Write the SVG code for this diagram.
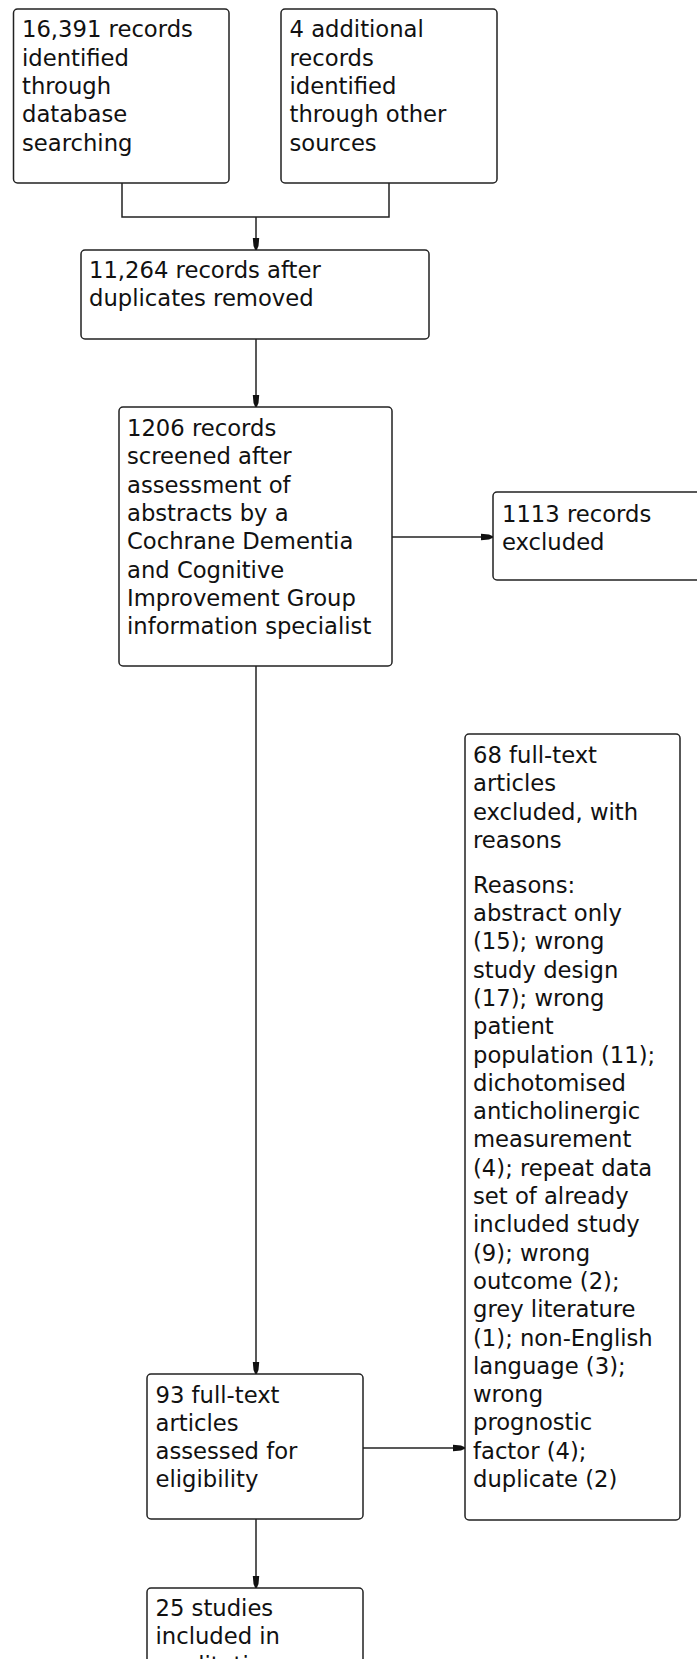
<svg xmlns="http://www.w3.org/2000/svg" width="697" height="1659" viewBox="0 0 697 1659">
<style>
.box{fill:#fff;stroke:#222;stroke-width:1.5}
.t{font-family:"DejaVu Sans",Verdana,sans-serif;font-size:22.7px;fill:#111}
.c{fill:none;stroke:#222;stroke-width:1.5}
</style>
<defs>
<marker id="arr" viewBox="0 0 12 8" refX="12" refY="4" markerWidth="12" markerHeight="8" orient="auto" markerUnits="userSpaceOnUse">
<path d="M0,0.8 L8,1.5 L12,3.2 L12,4.8 L8,6.5 L0,7.2 z" fill="#111"/>
</marker>
</defs>
<rect width="697" height="1659" fill="#fff"/>
<g id="connectors">
<path class="c" d="M122,183 V217 H389 V183"/>
<path class="c" d="M256,217 V250" marker-end="url(#arr)"/>
<path class="c" d="M256,339 V407" marker-end="url(#arr)"/>
<path class="c" d="M392,537 H493" marker-end="url(#arr)"/>
<path class="c" d="M256,666 V1374" marker-end="url(#arr)"/>
<path class="c" d="M363,1448 H465" marker-end="url(#arr)"/>
<path class="c" d="M256,1519 V1588" marker-end="url(#arr)"/>
</g>
<g id="n1">
<rect class="box" x="13.5" y="9" width="215.5" height="174" rx="4"/>
<text class="t"><tspan x="22" y="37.3">16,391 records</tspan><tspan x="22" y="65.6">identified</tspan><tspan x="22" y="93.9">through</tspan><tspan x="22" y="122.2">database</tspan><tspan x="22" y="150.5">searching</tspan></text>
</g>
<g id="n2">
<rect class="box" x="281" y="9" width="216" height="174" rx="4"/>
<text class="t"><tspan x="289.5" y="37.3">4 additional</tspan><tspan x="289.5" y="65.6">records</tspan><tspan x="289.5" y="93.9">identified</tspan><tspan x="289.5" y="122.2">through other</tspan><tspan x="289.5" y="150.5">sources</tspan></text>
</g>
<g id="n3">
<rect class="box" x="81" y="250" width="348" height="89" rx="4"/>
<text class="t"><tspan x="89" y="278">11,264 records after</tspan><tspan x="89" y="306.3">duplicates removed</tspan></text>
</g>
<g id="n4">
<rect class="box" x="119" y="407" width="273" height="259" rx="4"/>
<text class="t"><tspan x="127" y="436">1206 records</tspan><tspan x="127" y="464.3">screened after</tspan><tspan x="127" y="492.6">assessment of</tspan><tspan x="127" y="520.9">abstracts by a</tspan><tspan x="127" y="549.2">Cochrane Dementia</tspan><tspan x="127" y="577.5">and Cognitive</tspan><tspan x="127" y="605.8">Improvement Group</tspan><tspan x="127" y="634.1">information specialist</tspan></text>
</g>
<g id="n5">
<rect class="box" x="493" y="492" width="220" height="88" rx="4"/>
<text class="t"><tspan x="502" y="521.7">1113 records</tspan><tspan x="502" y="550">excluded</tspan></text>
</g>
<g id="n6">
<rect class="box" x="465" y="734" width="215" height="786" rx="4"/>
<text class="t"><tspan x="473" y="763">68 full-text</tspan><tspan x="473" y="791.3">articles</tspan><tspan x="473" y="819.6">excluded, with</tspan><tspan x="473" y="847.9">reasons</tspan><tspan x="473" y="892.7">Reasons:</tspan><tspan x="473" y="921">abstract only</tspan><tspan x="473" y="949.3">(15); wrong</tspan><tspan x="473" y="977.6">study design</tspan><tspan x="473" y="1005.9">(17); wrong</tspan><tspan x="473" y="1034.2">patient</tspan><tspan x="473" y="1062.5">population (11);</tspan><tspan x="473" y="1090.8">dichotomised</tspan><tspan x="473" y="1119.1">anticholinergic</tspan><tspan x="473" y="1147.4">measurement</tspan><tspan x="473" y="1175.7">(4); repeat data</tspan><tspan x="473" y="1204">set of already</tspan><tspan x="473" y="1232.3">included study</tspan><tspan x="473" y="1260.6">(9); wrong</tspan><tspan x="473" y="1288.9">outcome (2);</tspan><tspan x="473" y="1317.2">grey literature</tspan><tspan x="473" y="1345.5">(1); non-English</tspan><tspan x="473" y="1373.8">language (3);</tspan><tspan x="473" y="1402.1">wrong</tspan><tspan x="473" y="1430.4">prognostic</tspan><tspan x="473" y="1458.7">factor (4);</tspan><tspan x="473" y="1487">duplicate (2)</tspan></text>
</g>
<g id="n7">
<rect class="box" x="147" y="1374" width="216" height="145" rx="4"/>
<text class="t"><tspan x="155.5" y="1402.5">93 full-text</tspan><tspan x="155.5" y="1430.8">articles</tspan><tspan x="155.5" y="1459.1">assessed for</tspan><tspan x="155.5" y="1487.4">eligibility</tspan></text>
</g>
<g id="n8">
<rect class="box" x="147" y="1588" width="216" height="100" rx="4"/>
<text class="t"><tspan x="155.5" y="1616">25 studies</tspan><tspan x="155.5" y="1644.3">included in</tspan><tspan x="155.5" y="1672.6">qualitative</tspan></text>
</g>
</svg>
